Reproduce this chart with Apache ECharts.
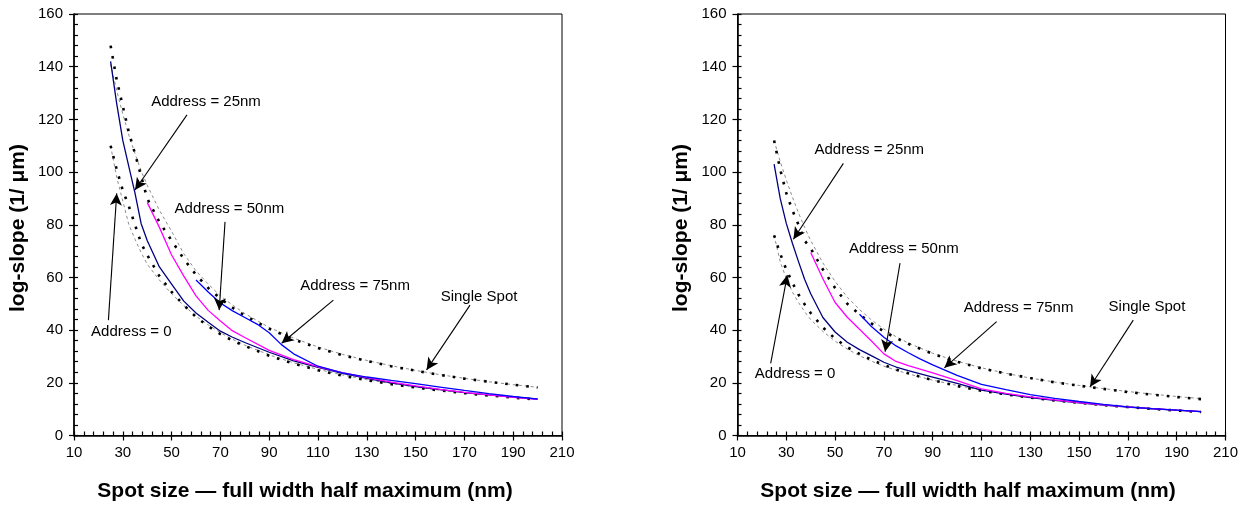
<!DOCTYPE html>
<html>
<head>
<meta charset="utf-8">
<script src="https://cdn.jsdelivr.net/npm/echarts@6/dist/echarts.min.js"></script>
<style>
  html, body { margin: 0; padding: 0; background: #fff; }
  #chart { width: 1250px; height: 508px; }
</style>
</head>
<body>
<div id="chart"></div>
<script>
// Spot sizes (nm) sampled for the dotted curves and fits
const spotX = [25, 27.5, 30, 32.5, 35, 37.5, 40, 45, 50, 55, 60, 65, 70, 75, 80, 90, 100, 110, 120, 130, 140, 150, 160, 170, 180, 190, 200];
const spotX50 = [40, 45, 50, 55, 60, 65, 70, 75, 80, 90, 100, 110, 120, 130, 140, 150, 160, 170, 180, 190, 200];
const spotX75 = [60, 65, 70, 75, 80, 85, 90, 95, 100, 110, 120, 130, 140, 150, 160, 170, 180, 190, 200];

// Left panel
const leftSingle = [148, 135, 125, 115, 107, 98.5, 90, 81, 74, 67, 61, 56, 52, 48.5, 45.5, 40.5, 36.5, 33.2, 30.5, 28.3, 26.3, 24.6, 23, 21.6, 20.4, 19.3, 18.2];
const leftAddr0 = [110, 101, 93, 87, 80, 73, 68.5, 60.5, 54.5, 49.5, 45, 41.5, 38.5, 36, 34, 30.3, 27.3, 24.8, 22.7, 21, 19.5, 18.2, 17.1, 16.1, 15.2, 14.4, 13.6];
const leftAddr25 = [142, 126, 112, 102, 92, 80.5, 74, 64, 57.5, 51, 46.5, 43, 39.6, 37.3, 35.3, 31.6, 28.3, 25.9, 23.6, 21.7, 20, 18.6, 17.4, 16.3, 15.4, 14.6, 13.9];
const leftAddr50 = [88.5, 79, 68.5, 60.5, 53, 47.5, 43.5, 39.7, 37.2, 32.3, 28.8, 26.1, 23.9, 22, 20.3, 18.8, 17.5, 16.4, 15.4, 14.5, 13.7];
const leftAddr75 = [59, 54.5, 50.3, 47.3, 44.8, 42.3, 39, 34.5, 31, 26.3, 23.8, 22.2, 20.9, 19.7, 18.4, 17.1, 15.9, 14.8, 13.8];
const leftFitSingle = [141, 131, 122, 114, 107, 100.5, 95, 85.5, 77.5, 69, 62.5, 57.5, 53, 49.5, 46.3, 41, 37, 33.6, 30.8, 28.5, 26.5, 24.7, 23.1, 21.7, 20.4, 19.3, 18.3];
const leftFitAddr0 = [110, 98, 89, 80, 74.5, 69.5, 65, 59, 53.8, 49.3, 45.3, 42, 39, 36.5, 34.3, 30.6, 27.6, 25.1, 23, 21.2, 19.7, 18.4, 17.2, 16.2, 15.3, 14.5, 13.8];

// Right panel
const rightSingle = [112, 101, 92, 85.5, 80, 74, 71, 63, 56, 50, 46, 42.5, 39.5, 37, 34.8, 31, 28, 25.5, 23.5, 21.8, 20.2, 18.9, 17.7, 16.5, 15.5, 14.6, 13.8];
const rightAddr0 = [76, 69, 63, 58, 53.5, 49.8, 46.5, 41, 36.8, 33.5, 31, 28.7, 26.8, 25, 23.6, 21, 18.8, 17, 15.6, 14.4, 13.3, 12.4, 11.5, 10.8, 10.1, 9.5, 8.9];
const rightAddr25 = [103, 90, 80.5, 73, 66, 59.3, 53.8, 44.8, 39.3, 35.4, 32.6, 30.2, 27.8, 26, 24.6, 22.2, 19.8, 17.2, 15.7, 14.4, 13.3, 12.4, 11.5, 10.8, 10.1, 9.6, 9.1];
const rightAddr50 = [69.5, 59.5, 50.5, 44.9, 40.3, 35.8, 31, 28.1, 26.5, 23.8, 20.8, 17.7, 16, 14.7, 13.5, 12.5, 11.6, 10.9, 10.2, 9.6, 9.1];
const rightAddr75 = [46, 41.3, 37.3, 34, 31.4, 29, 26.8, 24.8, 22.8, 19.4, 17.4, 15.5, 14.1, 12.9, 11.8, 10.9, 10.2, 9.6, 9.1];
const rightFitSingle = [112, 104, 97, 90.5, 84.5, 79, 74, 65.5, 58.5, 52.5, 47.8, 43.8, 40.4, 37.5, 35.1, 31.2, 28.2, 25.7, 23.6, 21.8, 20.3, 19, 17.8, 16.7, 15.7, 14.8, 14];
const rightFitAddr0 = [76, 66, 59.5, 54.5, 50.5, 47, 44, 39.5, 35.8, 32.8, 30.3, 28.2, 26.3, 24.8, 23.4, 21, 19, 17.2, 15.7, 14.5, 13.4, 12.5, 11.6, 10.9, 10.2, 9.6, 9];

// Axis ticks
const xTicks = { min: 10, max: 210, step: 20 };
const yTicks = { min: 0, max: 160, step: 20 };

// Callouts: [text, textX, textY, fromX, fromY, toX, toY] in data units
const leftNotes = [
  ['Address = 25nm', 64.1, 126.6, 56.3, 121.7, 35, 93.2],
  ['Address = 50nm', 73.7, 86, 71.9, 81.1, 69.5, 47.6],
  ['Address = 0', 33.5, 39.4, 24.1, 43.8, 27.5, 91.9],
  ['Address = 75nm', 125.2, 56.7, 116.3, 51.4, 95.1, 35],
  ['Single Spot', 176, 52.7, 172.3, 49.5, 154.5, 24.9]
];
const rightNotes = [
  ['Address = 25nm', 64, 108.3, 53.4, 103.3, 32.9, 74.5],
  ['Address = 50nm', 78.2, 70.8, 76.6, 65.4, 70.5, 31.8],
  ['Address = 0', 33.6, 23.3, 23.6, 27.4, 30.4, 60.9],
  ['Address = 75nm', 125.2, 48.3, 116.2, 43.2, 94.8, 25.7],
  ['Single Spot', 177.8, 48.7, 172.2, 43.8, 154.5, 18.5]
];

const xTitle = 'Spot size \u2014 full width half maximum (nm)';
const yTitle = 'log-slope (1/ \u03bcm)';

const FONT = '"Liberation Sans", Arial, sans-serif';
const pairs = (xs, ys) => xs.map((x, i) => [x, ys[i]]);

function axesFor(gridIndex, spec, isX) {
  const base = {
    type: 'value', gridIndex: gridIndex,
    min: spec.min, max: spec.max, interval: spec.step,
    splitLine: { show: false },
    position: isX ? 'bottom' : 'left'
  };
  // Outer axis: labels + outward half of the major ticks
  const outer = Object.assign({}, base, {
    axisLine: { show: true, onZero: false, lineStyle: { color: '#000', width: 1.6 } },
    axisTick: { show: true, inside: false, length: 5, lineStyle: { color: '#000', width: 1.2 } },
    minorTick: { show: false },
    axisLabel: { show: true, color: '#000', fontSize: 15, fontFamily: FONT, margin: isX ? 10 : 11 }
  });
  // Inner axis: inward major ticks plus minor ticks
  const inner = Object.assign({}, base, {
    axisLine: { show: false, onZero: false },
    axisTick: { show: true, inside: true, length: 4, lineStyle: { color: '#000', width: 1.2 } },
    minorTick: { show: true, splitNumber: 5, length: 4, lineStyle: { color: '#000', width: 1.2 } },
    axisLabel: { show: false }
  });
  return [outer, inner];
}

function panelSeries(axisIdx, d, notes) {
  const dotted = { color: '#000', width: 2.6, type: [2.6, 8], cap: 'butt' };
  const fit = { color: '#8c8c8c', width: 1, type: [3, 3] };
  const common = { type: 'line', xAxisIndex: axisIdx, yAxisIndex: axisIdx, showSymbol: false, symbol: 'none', silent: true, smooth: false, z: 3 };
  return [
    Object.assign({}, common, { name: 'fit single', data: pairs(spotX, d.fitSingle), lineStyle: fit, z: 2 }),
    Object.assign({}, common, { name: 'fit address 0', data: pairs(spotX, d.fitAddr0), lineStyle: fit, z: 2 }),
    Object.assign({}, common, { name: 'Single Spot', data: pairs(spotX, d.single), lineStyle: dotted }),
    Object.assign({}, common, { name: 'Address = 0', data: pairs(spotX, d.addr0), lineStyle: dotted }),
    Object.assign({}, common, { name: 'Address = 25nm', data: pairs(spotX, d.addr25), lineStyle: { color: '#000080', width: 1.3 }, z: 4 }),
    Object.assign({}, common, { name: 'Address = 50nm', data: pairs(spotX50, d.addr50), lineStyle: { color: '#ff00ff', width: 1.3 }, z: 4 }),
    Object.assign({}, common, { name: 'Address = 75nm', data: pairs(spotX75, d.addr75), lineStyle: { color: '#0000ff', width: 1.3 }, z: 4 }),
    {
      type: 'line', name: 'callouts', xAxisIndex: axisIdx, yAxisIndex: axisIdx, data: [], silent: true, z: 6,
      markLine: {
        silent: true, animation: false,
        symbol: ['none', 'arrow'], symbolSize: [9, 12],
        lineStyle: { color: '#000', width: 1.1, type: 'solid' },
        label: { show: false },
        data: notes.map(n => [{ coord: [n[3], n[4]] }, { coord: [n[5], n[6]] }])
      },
      markPoint: {
        silent: true, animation: false,
        symbol: 'circle', symbolSize: 1,
        itemStyle: { color: 'rgba(0,0,0,0)' },
        label: { show: true, position: 'inside', color: '#000', fontSize: 15, fontFamily: FONT },
        data: notes.map(n => ({ coord: [n[1], n[2]], value: n[0], label: { formatter: n[0] } }))
      }
    }
  ];
}

const grids = [
  { left: 74, top: 14, width: 488, height: 421.5, show: true, borderColor: '#000', borderWidth: 1, containLabel: false },
  { left: 737.5, top: 14, width: 488, height: 421.5, show: true, borderColor: '#000', borderWidth: 1, containLabel: false }
];

const xAxes = [].concat(axesFor(0, xTicks, true), axesFor(1, xTicks, true));
const yAxes = [].concat(axesFor(0, yTicks, false), axesFor(1, yTicks, false));

const series = [].concat(
  panelSeries(0, { single: leftSingle, addr0: leftAddr0, addr25: leftAddr25, addr50: leftAddr50, addr75: leftAddr75, fitSingle: leftFitSingle, fitAddr0: leftFitAddr0 }, leftNotes),
  panelSeries(2, { single: rightSingle, addr0: rightAddr0, addr25: rightAddr25, addr50: rightAddr50, addr75: rightAddr75, fitSingle: rightFitSingle, fitAddr0: rightFitAddr0 }, rightNotes)
);

const titleFont = 'bold 21px ' + FONT;
const graphic = [
  { type: 'text', x: 305, y: 491, style: { text: xTitle, font: titleFont, fill: '#000', align: 'center', verticalAlign: 'middle' } },
  { type: 'text', x: 968, y: 491, style: { text: xTitle, font: titleFont, fill: '#000', align: 'center', verticalAlign: 'middle' } },
  { type: 'text', x: 18, y: 228, rotation: Math.PI / 2, style: { text: yTitle, font: titleFont, fill: '#000', align: 'center', verticalAlign: 'middle' } },
  { type: 'text', x: 681, y: 228, rotation: Math.PI / 2, style: { text: yTitle, font: titleFont, fill: '#000', align: 'center', verticalAlign: 'middle' } }
];

const chart = echarts.init(document.getElementById('chart'), null, { renderer: 'canvas' });
chart.setOption({
  animation: false,
  backgroundColor: '#fff',
  grid: grids,
  xAxis: xAxes,
  yAxis: yAxes,
  series: series,
  graphic: graphic
});
</script>
</body>
</html>
